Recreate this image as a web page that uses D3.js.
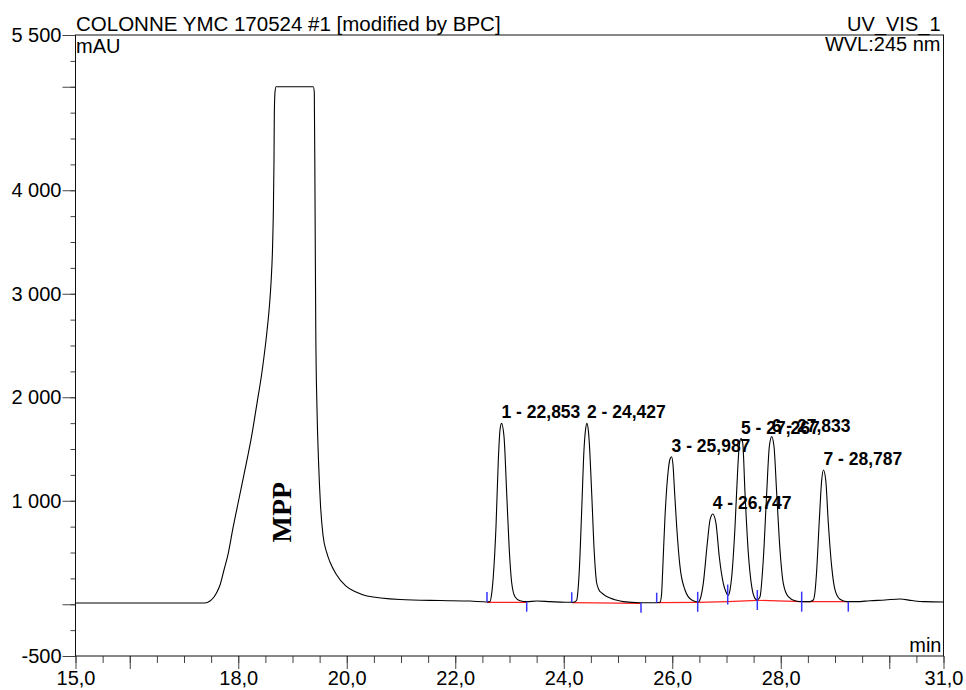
<!DOCTYPE html>
<html>
<head>
<meta charset="utf-8">
<script src="https://cdn.jsdelivr.net/npm/d3@7"></script>
<style>
  body { margin: 0; background: #fff; }
  svg text { font-family: "Liberation Sans", Arial, sans-serif; fill: #000; }
  .axis .domain { display: none; }
  .axis line { stroke: #444; }
  .axis text { font-size: 20px; }
  .peak-label { font-size: 17.5px; font-weight: bold; }
</style>
</head>
<body>
<div id="chart"></div>
<script>
// chromatogram trace (min, mAU)
var traceTime = [
  15.000, 16.373, 17.387, 17.479, 17.553, 17.608, 17.664, 17.737, 17.817, 17.903,
  18.001, 18.124, 18.248, 18.346, 18.432, 18.524, 18.576, 18.604, 18.631, 18.646,
  18.659, 18.665, 18.677, 18.696, 19.383, 19.402, 19.415, 19.429, 19.452, 19.479,
  19.516, 19.562, 19.627, 19.691, 19.802, 19.986, 20.171, 20.373, 20.982, 21.719,
  22.272, 22.585, 22.641, 22.668, 22.701, 22.751, 22.794, 22.825, 22.853, 22.899,
  22.948, 22.996, 23.041, 23.101, 23.194, 23.317, 23.501, 23.747, 24.023, 24.147,
  24.198, 24.239, 24.263, 24.287, 24.331, 24.373, 24.401, 24.427, 24.456, 24.471,
  24.515, 24.563, 24.607, 24.650, 24.700, 24.760, 24.853, 24.963, 25.098, 25.406,
  25.713, 25.774, 25.802, 25.824, 25.866, 25.927, 25.959, 25.987, 26.014, 26.041,
  26.082, 26.143, 26.235, 26.359, 26.480, 26.521, 26.572, 26.646, 26.696, 26.747,
  26.806, 26.867, 26.941, 26.991, 27.033, 27.065, 27.096, 27.157, 27.206, 27.236,
  27.267, 27.299, 27.341, 27.402, 27.465, 27.525, 27.568, 27.590, 27.618, 27.678,
  27.741, 27.789, 27.833, 27.876, 27.925, 27.986, 28.047, 28.139, 28.263, 28.386,
  28.539, 28.600, 28.631, 28.663, 28.711, 28.755, 28.787, 28.829, 28.877, 28.939,
  29.000, 29.092, 29.216, 29.400, 29.645, 29.922, 30.198, 30.419, 30.659, 31.000
]
var traceSignal = [
  12, 12, 12, 31, 70, 118, 186, 331, 495, 737,
  988, 1300, 1630, 1944, 2225, 2611, 2892, 3104, 3423, 3761,
  4292, 4737, 4945, 5000, 5000, 4945, 3906, 2650, 1877, 1394,
  959, 669, 505, 408, 292, 176, 118, 80, 46, 36,
  31, 22, 27, 89, 266, 749, 1394, 1683, 1748, 1619,
  1075, 524, 205, 73, 34, 25, 31, 25, 19, 19,
  22, 41, 138, 331, 911, 1490, 1683, 1748, 1664, 1558,
  1075, 495, 205, 138, 109, 85, 60, 41, 25, 15,
  15, 19, 89, 331, 843, 1297, 1403, 1425, 1345, 1104,
  749, 363, 138, 41, 22, 60, 202, 589, 814, 872,
  782, 459, 202, 118, 85, 138, 266, 749, 1297, 1539,
  1600, 1558, 1075, 495, 170, 57, 41, 51, 73, 428,
  1075, 1522, 1620, 1522, 1075, 524, 202, 73, 34, 25,
  25, 41, 118, 331, 814, 1200, 1297, 1200, 782, 363,
  138, 48, 25, 25, 34, 41, 51, 36, 25, 22
]

// integrated peaks
var peakNumber = [1, 2, 3, 4, 5, 6, 7]
var peakRT = [22.853, 24.427, 25.987, 26.747, 27.267, 27.833, 28.787]
var peakHeight = [1748, 1748, 1425, 872, 1600, 1620, 1297]
var peakStart = [22.585, 24.147, 25.713, 26.469, 27.022, 27.568, 28.386]
var peakEnd = [23.317, 25.424, 26.469, 27.022, 27.568, 28.386, 29.245]
var baseStart = [19, 15, 15, 19, 25, 38, 25]
var baseEnd = [19, 9, 19, 25, 38, 25, 25]

// axes
var xDomain = [15, 31]
var yDomain = [-500, 5500]
var xMinorTicks = d3.range(15, 31.001, 0.5)
var xMajorTicks = [15, 16, 18, 20, 22, 24, 26, 28, 30, 31]
var xTickLabels = [15, 18, 20, 22, 24, 26, 28, 31]
var yMinorTicks = d3.range(-500, 5500.1, 250)
var yMajorTicks = [-500, 0, 1000, 2000, 3000, 4000, 5000, 5500]
var yTickLabels = [-500, 1000, 2000, 3000, 4000, 5500]

var title = 'COLONNE YMC 170524 #1 [modified by BPC]'
var channel = 'UV_VIS_1'
var wavelength = 'WVL:245 nm'
var yUnit = 'mAU'
var xUnit = 'min'
var mainPeakName = 'MPP'
var mainPeakPos = [18.79, 890]

var width = 966
var height = 690
var margin = { top: 35, right: 22.5, bottom: 34, left: 75.5 }

var locale = d3.formatLocale({ decimal: ',', thousands: ' ', grouping: [3], currency: ['', ''], minus: '-' })
var fmtX = locale.format('.1f')
var fmtY = locale.format(',')
var fmtRT = locale.format('.3f')

var svg = d3.select('#chart').append('svg')
  .attr('width', width)
  .attr('height', height)

var x = d3.scaleLinear().domain(xDomain).range([margin.left, width - margin.right])
var y = d3.scaleLinear().domain(yDomain).range([height - margin.bottom, margin.top])

// minor ticks
svg.append('g')
  .attr('class', 'axis')
  .attr('transform', 'translate(0,' + y(yDomain[0]) + ')')
  .call(d3.axisBottom(x).tickValues(xMinorTicks).tickSize(7).tickFormat(''))
svg.append('g')
  .attr('class', 'axis')
  .attr('transform', 'translate(' + x(xDomain[0]) + ',0)')
  .call(d3.axisLeft(y).tickValues(yMinorTicks).tickSize(5).tickFormat(''))

// major ticks + labels
svg.append('g')
  .attr('class', 'axis')
  .attr('transform', 'translate(0,' + y(yDomain[0]) + ')')
  .call(d3.axisBottom(x).tickValues(xMajorTicks).tickSize(13).tickPadding(2)
    .tickFormat(function (d) { return xTickLabels.indexOf(d) >= 0 ? fmtX(d) : '' }))
svg.append('g')
  .attr('class', 'axis')
  .attr('transform', 'translate(' + x(xDomain[0]) + ',0)')
  .call(d3.axisLeft(y).tickValues(yMajorTicks).tickSize(13).tickPadding(1)
    .tickFormat(function (d) { return yTickLabels.indexOf(d) >= 0 ? fmtY(d) : '' }))

// frame
svg.append('rect')
  .attr('x', x(xDomain[0]))
  .attr('y', y(yDomain[1]))
  .attr('width', x(xDomain[1]) - x(xDomain[0]))
  .attr('height', y(yDomain[0]) - y(yDomain[1]))
  .attr('fill', 'none')
  .attr('stroke', '#111')
  .attr('stroke-width', 1)

// header texts
svg.append('text').attr('x', x(xDomain[0]) + 0.5).attr('y', 31)
  .style('font-size', '20.5px').text(title)
svg.append('text').attr('x', x(xDomain[0]) + 0.5).attr('y', 53)
  .style('font-size', '20px').text(yUnit)
svg.append('text').attr('x', x(xDomain[1]) - 3).attr('y', 31)
  .attr('text-anchor', 'end').style('font-size', '20px').text(channel)
svg.append('text').attr('x', x(xDomain[1]) - 3).attr('y', 51)
  .attr('text-anchor', 'end').style('font-size', '20px').text(wavelength)
svg.append('text').attr('x', x(xDomain[1]) - 2).attr('y', 652)
  .attr('text-anchor', 'end').style('font-size', '20px').text(xUnit)

// baselines of integration
var peaks = peakNumber.map(function (n, i) {
  return { n: n, rt: peakRT[i], h: peakHeight[i], t0: peakStart[i], t1: peakEnd[i], b0: baseStart[i], b1: baseEnd[i] }
})
svg.append('g').selectAll('line')
  .data(peaks)
  .enter().append('line')
  .attr('x1', function (d) { return x(d.t0) })
  .attr('x2', function (d) { return x(d.t1) })
  .attr('y1', function (d) { return y(d.b0) })
  .attr('y2', function (d) { return y(d.b1) })
  .attr('stroke', '#ff2020')
  .attr('stroke-width', 1.2)

// trace
var trace = traceTime.map(function (t, i) { return [t, traceSignal[i]] })
var line = d3.line()
  .x(function (d) { return x(d[0]) })
  .y(function (d) { return y(d[1]) })
  .curve(d3.curveMonotoneX)
svg.append('path')
  .datum(trace)
  .attr('d', line)
  .attr('fill', 'none')
  .attr('stroke', '#000')
  .attr('stroke-width', 1.1)

// peak delimiters, placed on the trace
function signalAt (t) {
  var i = d3.bisector(function (d) { return d[0] }).left(trace, t)
  if (i <= 0) return trace[0][1]
  var a = trace[i - 1], b = trace[i]
  return a[1] + (b[1] - a[1]) * (t - a[0]) / (b[0] - a[0])
}
var marks = []
peaks.forEach(function (p) {
  marks.push({ t: p.t0, up: true })
  marks.push({ t: p.t1, up: false })
})
svg.append('g').selectAll('line')
  .data(marks)
  .enter().append('line')
  .attr('x1', function (d) { return x(d.t) })
  .attr('x2', function (d) { return x(d.t) })
  .attr('y1', function (d) { return y(signalAt(d.t)) })
  .attr('y2', function (d) { return y(signalAt(d.t)) + (d.up ? -10 : 10) })
  .attr('stroke', '#3535ff')
  .attr('stroke-width', 1.5)

// peak labels
svg.append('g').selectAll('text')
  .data(peaks)
  .enter().append('text')
  .attr('class', 'peak-label')
  .attr('x', function (d) { return x(d.rt) })
  .attr('y', function (d) { return y(d.h) - 5 })
  .text(function (d) { return d.n + ' - ' + fmtRT(d.rt) })

// main peak name
svg.append('text')
  .attr('transform', 'translate(' + x(mainPeakPos[0]) + ',' + y(mainPeakPos[1]) + ') rotate(-90)')
  .attr('text-anchor', 'middle')
  .attr('dy', '0.35em')
  .style('font-family', '"Liberation Serif", "Times New Roman", serif')
  .style('font-weight', 'bold')
  .style('font-size', '28px')
  .text(mainPeakName)
</script>
</body>
</html>
